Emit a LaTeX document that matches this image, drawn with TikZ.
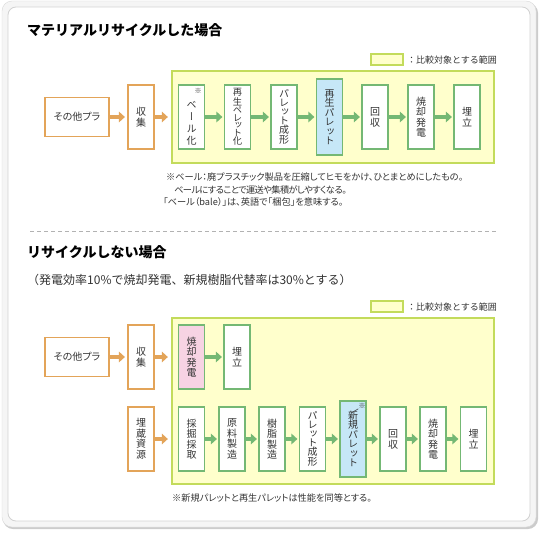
\documentclass[tikz,border=0pt]{standalone}
\usepackage{fontspec}
\setmainfont{Noto Sans CJK JP}
\newfontfamily\vfont[RawFeature=+vert]{Noto Sans CJK JP}
\newfontfamily\pfont[RawFeature=+palt]{Noto Sans CJK JP}
\usetikzlibrary{arrows.meta}
\definecolor{orangeC}{HTML}{E3A459}
\definecolor{greenC}{HTML}{74B874}
\definecolor{yellowF}{HTML}{FFFFCC}
\definecolor{yellowB}{HTML}{C3DB5B}
\definecolor{blueF}{HTML}{C6E7F7}
\definecolor{pinkF}{HTML}{F7D3E3}
\definecolor{txt}{HTML}{333333}
\begin{document}
\begin{tikzpicture}[x=1pt,y=-1pt,
  every node/.style={text=txt},
  box/.style={draw, line width=1.2pt, fill=white, minimum width=26pt, minimum height=64pt, inner sep=0pt, align=center, font=\vfont\fontsize{10}{11}\selectfont},
  obox/.style={box, draw=orangeC},
  gbox/.style={box, draw=greenC},
  tallbox/.style={gbox, minimum height=76pt, fill=blueF},
  pinkbox/.style={gbox, fill=pinkF},
  hbox/.style={obox, minimum width=64pt, minimum height=39pt, font=\pfont\fontsize{10}{11}\selectfont},
  area/.style={draw=yellowB, fill=yellowF, line width=1.3pt, inner sep=0pt},
  oarr/.style={draw=orangeC, line width=3.4pt, -{Triangle[length=6pt,width=10.5pt]}, shorten >=2.5pt},
  garr/.style={draw=greenC, line width=3.4pt, -{Triangle[length=6pt,width=10.5pt]}, shorten >=1.5pt},
  ttl/.style={anchor=west, inner sep=0pt, font=\bfseries\fontsize{14}{14}\selectfont, text=black},
  sub/.style={anchor=west, inner sep=0pt, font=\fontsize{12}{12}\selectfont},
  note/.style={anchor=west, inner sep=0pt, font=\pfont\fontsize{9.2}{10}\selectfont},
  legtxt/.style={anchor=west, inner sep=0pt, font=\fontsize{9}{9}\selectfont},
  refmark/.style={inner sep=0pt, font=\fontsize{7}{7}\selectfont}
]
\useasboundingbox (0,0) rectangle (540,532);
% frame
\fill[gray!40, rounded corners=10pt] (3,3) rectangle (538,529);
\filldraw[fill=gray!8, draw=gray!30, rounded corners=10pt] (2,1) rectangle (536,527);
\filldraw[fill=white, draw=gray!35, line width=0.8pt, rounded corners=8pt] (8,7) rectangle (530,521);

% ---------- section 1 ----------
\node[ttl] (t1) at (27,30) {マテリアルリサイクルした場合};
\node[area, minimum width=32pt, minimum height=11pt] (leg1) at (387,59.5) {};
\node[legtxt] (legt1) at (407,60) {：比較対象とする範囲};
\node[area, minimum width=322pt, minimum height=92pt] (area1) at (333,117) {};

\node[hbox] (oth1) at (77,117) {その他プラ};
\node[obox] (col1) at (141,117) {収\\集};
\node[gbox] (bale) at (191.5,117) {};
\node[inner sep=0pt, align=center, font=\vfont\fontsize{10}{12}\selectfont] (baletxt) at (191.5,123) {ベ\\ー\\ル\\化};
\node[refmark] (balemark) at (198,91) {※};
\node[gbox, font=\vfont\fontsize{9.3}{7.9}\selectfont] (pel) at (237.5,117) {再\\生\\ペ\\レ\\ッ\\ト\\化};
\node[gbox, font=\vfont\fontsize{10}{8.8}\selectfont] (pal1) at (284,117) {パ\\レ\\ッ\\ト\\成\\形};
\node[tallbox, font=\vfont\fontsize{10}{9.5}\selectfont] (rpal) at (329.5,117) {再\\生\\パ\\レ\\ッ\\ト};
\node[gbox] (rec1) at (375,117) {回\\収};
\node[gbox, font=\vfont\fontsize{10}{10.5}\selectfont] (inc1) at (421,117) {焼\\却\\発\\電};
\node[gbox] (lf1) at (467,117) {埋\\立};

\draw[oarr] (oth1) -- (col1);
\draw[oarr, shorten >=3.5pt] (col1.east) -- (col1.east -| area1.west);
\draw[garr] (bale) -- (pel);
\draw[garr] (pel) -- (pal1);
\draw[garr] (pal1) -- (rpal);
\draw[garr] (rpal) -- (rec1);
\draw[garr] (rec1) -- (inc1);
\draw[garr] (inc1) -- (lf1);

\node[note] (n1) at (166,177) {※ベール：廃プラスチック製品を圧縮してヒモをかけ、ひとまとめにしたもの。};
\node[note, font=\pfont\fontsize{9.2}{10}\selectfont\addfontfeature{LetterSpace=-6}] (n2) at (174,189.5) {ベールにすることで運送や集積がしやすくなる。};
\node[note] (n3) at (163,202) {「ベール（bale）」は、英語で「梱包」を意味する。};

\draw[gray!60, line width=0.7pt, dash pattern=on 4pt off 3pt] (30,231) -- (498,231);

% ---------- section 2 ----------
\node[ttl] (t2) at (27,252) {リサイクルしない場合};
\node[sub] (s2) at (27,280) {（発電効率10\%で焼却発電、新規樹脂代替率は30\%とする）};
\node[area, minimum width=32pt, minimum height=11pt] (leg2) at (387,306.5) {};
\node[legtxt] (legt2) at (407,307) {：比較対象とする範囲};
\node[area, minimum width=322pt, minimum height=166pt] (area2) at (333,401) {};

\node[hbox] (oth2) at (77,357) {その他プラ};
\node[obox] (col2) at (141,357) {収\\集};
\node[pinkbox, font=\vfont\fontsize{10}{10.5}\selectfont] (inc2) at (191.5,357) {焼\\却\\発\\電};
\node[gbox] (lf2) at (237,357) {埋\\立};
\draw[oarr] (oth2) -- (col2);
\draw[oarr, shorten >=3.5pt] (col2.east) -- (col2.east -| area2.west);
\draw[garr] (inc2) -- (lf2);

\node[obox, font=\vfont\fontsize{10}{10.5}\selectfont] (res) at (141,439) {埋\\蔵\\資\\源};
\node[gbox, font=\vfont\fontsize{10}{10.5}\selectfont] (mine) at (191.5,439) {採\\掘\\採\\取};
\node[gbox, font=\vfont\fontsize{10}{10.5}\selectfont] (raw) at (232,439) {原\\料\\製\\造};
\node[gbox, font=\vfont\fontsize{10}{10.5}\selectfont] (resin) at (272,439) {樹\\脂\\製\\造};
\node[gbox, font=\vfont\fontsize{10}{8.8}\selectfont] (pal2) at (312.5,439) {パ\\レ\\ッ\\ト\\成\\形};
\node[tallbox, font=\vfont\fontsize{10}{9.5}\selectfont] (npal) at (353,439) {新\\規\\パ\\レ\\ッ\\ト};
\node[refmark] (npalmark) at (362,406) {※};
\draw[txt, line width=0.5pt] (351,413) -- (npalmark.south west);
\node[gbox] (rec2) at (393,439) {回\\収};
\node[gbox, font=\vfont\fontsize{10}{10.5}\selectfont] (inc3) at (433,439) {焼\\却\\発\\電};
\node[gbox] (lf3) at (473.5,439) {埋\\立};

\draw[oarr, shorten >=3.5pt] (res.east) -- (res.east -| area2.west);
\draw[garr] (mine) -- (raw);
\draw[garr] (raw) -- (resin);
\draw[garr] (resin) -- (pal2);
\draw[garr] (pal2) -- (npal);
\draw[garr] (npal) -- (rec2);
\draw[garr] (rec2) -- (inc3);
\draw[garr] (inc3) -- (lf3);

\node[note] (n4) at (172,498) {※新規パレットと再生パレットは性能を同等とする。};
\end{tikzpicture}
\end{document}
